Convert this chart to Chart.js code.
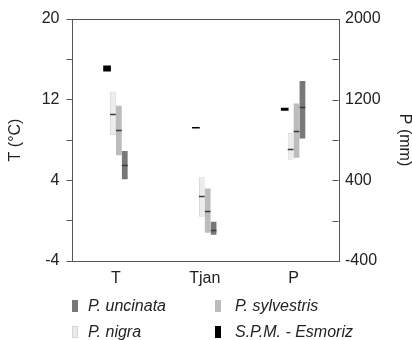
<!DOCTYPE html>
<html><head><meta charset="utf-8">
<script src="https://cdn.jsdelivr.net/npm/chart.js@4/dist/chart.umd.min.js"></script>
<style>
html,body{margin:0;padding:0;background:#fff;}
#wrap{position:relative;width:412px;height:340px;overflow:hidden;}
canvas{position:absolute;left:0;top:0;}
.lt{position:absolute;font:italic 16px "Liberation Sans",Arial,sans-serif;color:#222;line-height:18px;white-space:nowrap;}
.sw{position:absolute;width:6px;height:12px;box-sizing:border-box;}
</style></head>
<body><div id="wrap"><canvas id="c" width="412" height="340"></canvas><div id="legend"></div></div>
<script>
// ---- data ----
const categories = ['T', 'Tjan', 'P'];            // T and Tjan in °C, P in mm
const seriesNames = ['S.P.M. - Esmoriz', 'P. nigra', 'P. sylvestris', 'P. uncinata'];
// [T, Tjan, P]
const esmorizMin   = [14.8, 9.15, 1090];
const esmorizMax   = [15.4, 9.30, 1120];
const nigraMin     = [8.5, 0.4, 604];
const nigraMax     = [12.8, 4.3, 873];
const nigraMedian  = [10.6, 2.4, 710];
const sylvestrisMin    = [6.5, -1.2, 624];
const sylvestrisMax    = [11.4, 3.2, 1161];
const sylvestrisMedian = [9.0, 1.0, 889];
const uncinataMin    = [4.1, -1.4, 816];
const uncinataMax    = [6.9, -0.1, 1386];
const uncinataMedian = [5.5, -0.9, 1124];
const tempTickLabels = [20, 12, 4, -4];
const precipTickLabels = [2000, 1200, 400, -400];

// ---- styles ----
const FONT = '"Liberation Sans", Arial, sans-serif';
const styles = {
  'S.P.M. - Esmoriz': {bg: '#000000', border: '#000000', bw: 0, bp: 1.3},
  'P. nigra':         {bg: '#ececec', border: '#d6d6d6', bw: 1, bp: 0.97},
  'P. sylvestris':    {bg: '#bcbcbc', border: '#b0b0b0', bw: 0, bp: 0.97},
  'P. uncinata':      {bg: '#787878', border: '#707070', bw: 0, bp: 0.97}
};
const series = [
  {name: seriesNames[0], min: esmorizMin, max: esmorizMax, median: null},
  {name: seriesNames[1], min: nigraMin, max: nigraMax, median: nigraMedian},
  {name: seriesNames[2], min: sylvestrisMin, max: sylvestrisMax, median: sylvestrisMedian},
  {name: seriesNames[3], min: uncinataMin, max: uncinataMax, median: uncinataMedian}
];
const isPrecip = categories.map(c => c === 'P');

const datasets = [];
series.forEach(s => {
  const st = styles[s.name];
  [false, true].forEach(prec => {
    datasets.push({
      label: s.name,
      stack: s.name,
      yAxisID: prec ? 'y2' : 'y',
      data: categories.map((c, i) => isPrecip[i] === prec ? [s.min[i], s.max[i]] : null),
      medians: s.median ? categories.map((c, i) => isPrecip[i] === prec ? s.median[i] : null) : null,
      backgroundColor: st.bg,
      borderColor: st.border,
      borderWidth: st.bw,
      borderSkipped: false,
      barPercentage: st.bp,
      categoryPercentage: 0.266
    });
  });
});

const boxPlugin = {
  id: 'box',
  afterDatasetsDraw(chart) {
    const ctx = chart.ctx;
    chart.data.datasets.forEach((ds, di) => {
      if (!ds.medians) return;
      const meta = chart.getDatasetMeta(di);
      const ys = chart.scales[ds.yAxisID];
      meta.data.forEach((el, i) => {
        const m = ds.medians[i];
        if (m === null || m === undefined) return;
        const y = Math.round(ys.getPixelForValue(m)) + 0.5;
        ctx.save();
        ctx.strokeStyle = '#3a3a3a';
        ctx.lineWidth = 1.5;
        ctx.beginPath();
        ctx.moveTo(el.x - el.width / 2, y);
        ctx.lineTo(el.x + el.width / 2, y);
        ctx.stroke();
        ctx.restore();
      });
    });
  },
  afterDraw(chart) {
    const ctx = chart.ctx;
    const a = chart.chartArea;
    ctx.save();
    ctx.strokeStyle = '#555';
    ctx.lineWidth = 1;
    ctx.strokeRect(Math.round(a.left) + 0.5, Math.round(a.top) + 0.5, Math.round(a.right - a.left), Math.round(a.bottom - a.top));
    const y2 = chart.scales.y2;
    y2.ticks.forEach(t => {
      const y = Math.round(y2.getPixelForValue(t.value)) + 0.5;
      ctx.beginPath();
      ctx.moveTo(Math.round(a.right) + 0.5, y);
      ctx.lineTo(Math.round(a.right) - 5.5, y);
      ctx.stroke();
    });
    ctx.restore();
  }
};

new Chart(document.getElementById('c'), {
  type: 'bar',
  data: {labels: categories, datasets},
  options: {
    responsive: false,
    animation: false,
    events: [],
    layout: {padding: {top: 19, left: 0, right: 0, bottom: 0}},
    plugins: {legend: {display: false}, tooltip: {enabled: false}},
    scales: {
      x: {
        grid: {display: false},
        border: {display: false},
        ticks: {font: {family: FONT, size: 16}, color: '#222', padding: 0},
        afterFit: s => { s.height = 79; }
      },
      y: {
        position: 'left', min: -4, max: 20, stacked: false,
        ticks: {stepSize: 4, font: {family: FONT, size: 16}, color: '#222', padding: 7,
          callback: v => tempTickLabels.includes(v) ? String(v) : ''},
        grid: {drawOnChartArea: false, drawTicks: true, tickLength: 5, color: '#555'},
        border: {display: false},
        title: {display: true, text: 'T (°C)', font: {family: FONT, size: 16, lineHeight: 1}, color: '#222', padding: {top: 8, bottom: 0}},
        afterFit: s => { s.width = 71.5; }
      },
      y2: {
        position: 'right', min: -400, max: 2000, stacked: false,
        ticks: {stepSize: 400, font: {family: FONT, size: 16}, color: '#222', padding: 7,
          callback: v => precipTickLabels.includes(v) ? String(v) : ''},
        grid: {drawOnChartArea: false, drawTicks: false},
        border: {display: false},
        title: {display: true, text: 'P (mm)', font: {family: FONT, size: 16, lineHeight: 1}, color: '#222', padding: {top: 0, bottom: 0}},
        afterFit: s => { s.width = 74; }
      }
    }
  },
  plugins: [boxPlugin]
});

// ---- legend (HTML) ----
const legendOrder = [seriesNames[3], seriesNames[2], seriesNames[1], seriesNames[0]];
const legendPos = [[72, 300], [215, 300], [72, 326], [215, 326]];
const lg = document.getElementById('legend');
legendOrder.forEach((name, i) => {
  const st = styles[name];
  const [x, y] = legendPos[i];
  const sw = document.createElement('div');
  sw.className = 'sw';
  sw.style.left = x + 'px'; sw.style.top = y + 'px';
  sw.style.background = st.bg;
  if (st.bw) sw.style.border = '1px solid ' + st.border;
  lg.appendChild(sw);
  const t = document.createElement('div');
  t.className = 'lt';
  t.textContent = name;
  t.style.left = (x + 16 + (i % 2) * 4) + 'px';
  t.style.top = (y - 3) + 'px';
  lg.appendChild(t);
});
</script>
</body></html>
